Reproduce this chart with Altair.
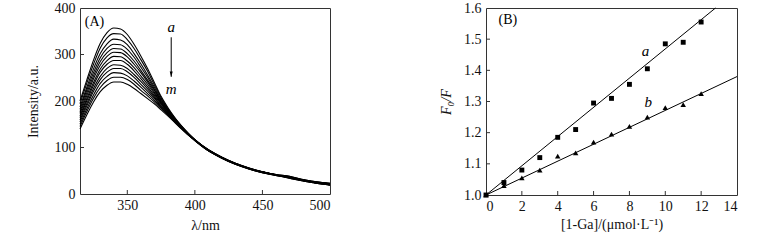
import altair as alt
import pandas as pd

# ---------------- Panel A: emission spectra (curves a..m) ----------------
wavelengths = [315, 320, 325, 330, 335, 340, 345, 350, 355, 360, 365, 370, 375, 380,
               385, 390, 395, 400, 410, 420, 430, 440, 450, 460, 470, 480, 490, 500]

curve_a = [200, 245, 288, 324, 347, 357, 355, 343, 322, 297, 270, 240, 210, 186, 165, 147, 131, 117, 95, 79, 66, 56, 48, 42, 38, 31, 26, 23]
curve_b = [194, 238, 279, 314, 336, 345, 344, 332, 313, 289, 264, 235, 207, 184, 164, 146, 131, 117, 95, 79, 66, 56, 48, 42, 38, 31, 26, 23]
curve_c = [187, 229, 269, 302, 323, 333, 331, 321, 302, 280, 256, 230, 204, 182, 163, 146, 130, 117, 95, 79, 66, 56, 48, 42, 37, 30, 25, 22]
curve_d = [182, 223, 261, 293, 313, 322, 321, 311, 294, 273, 251, 226, 201, 181, 162, 145, 130, 116, 94, 78, 65, 55, 47, 41, 37, 30, 25, 22]
curve_e = [177, 217, 254, 285, 304, 313, 312, 302, 286, 266, 245, 223, 199, 179, 161, 144, 129, 116, 94, 78, 65, 55, 47, 41, 36, 30, 25, 21]
curve_f = [173, 211, 248, 277, 296, 305, 304, 295, 279, 261, 241, 219, 197, 178, 160, 144, 129, 116, 94, 78, 65, 55, 47, 41, 36, 30, 25, 21]
curve_g = [168, 205, 240, 269, 287, 296, 295, 286, 272, 254, 236, 216, 195, 177, 159, 143, 129, 116, 94, 78, 65, 55, 47, 41, 36, 29, 24, 21]
curve_h = [164, 200, 234, 262, 279, 287, 287, 279, 265, 248, 231, 212, 193, 175, 158, 143, 129, 116, 94, 78, 65, 55, 47, 41, 36, 29, 24, 21]
curve_i = [159, 194, 227, 253, 270, 278, 277, 270, 257, 242, 226, 209, 190, 174, 158, 142, 128, 116, 94, 78, 65, 55, 47, 41, 35, 29, 24, 20]
curve_j = [155, 189, 221, 246, 262, 270, 270, 263, 251, 236, 221, 206, 188, 173, 157, 142, 128, 116, 94, 78, 65, 55, 47, 41, 35, 29, 24, 20]
curve_k = [150, 183, 213, 238, 253, 261, 260, 254, 243, 230, 216, 202, 186, 171, 156, 141, 128, 115, 93, 77, 64, 54, 46, 40, 35, 29, 24, 20]
curve_l = [145, 177, 206, 229, 244, 251, 251, 246, 236, 223, 211, 198, 184, 170, 155, 141, 127, 115, 93, 77, 64, 54, 46, 40, 34, 28, 23, 19]
curve_m = [140, 170, 198, 220, 234, 241, 241, 236, 227, 216, 205, 194, 181, 168, 154, 140, 127, 115, 93, 77, 64, 54, 46, 40, 34, 28, 23, 19]

curve_names = list("abcdefghijklm")
curves = [curve_a, curve_b, curve_c, curve_d, curve_e, curve_f, curve_g,
          curve_h, curve_i, curve_j, curve_k, curve_l, curve_m]

a_xlabels = [350, 400, 450, 500]
a_ylabels = [0, 100, 200, 300, 400]
a_xticks = [350, 400, 450]
a_yticks = [100, 200, 300]

# annotations of panel A (data coordinates)
a_text = ["(A)", "a", "m"]
a_text_x = [318.5, 382.5, 382.5]
a_text_y = [370, 360, 226]
a_text_style = ["normal", "italic", "italic"]
arrow_x = [382.5, 382.5]
arrow_y = [337, 252]

# ---------------- Panel B: Stern-Volmer plots ----------------
conc = [0, 1, 2, 3, 4, 5, 6, 7, 8, 9, 10, 11, 12]
ratio_a = [1.00, 1.04, 1.08, 1.12, 1.185, 1.21, 1.295, 1.31, 1.355, 1.405, 1.485, 1.49, 1.555]
ratio_b = [1.00, 1.03, 1.055, 1.08, 1.125, 1.135, 1.17, 1.195, 1.22, 1.25, 1.28, 1.29, 1.325]
fit_a_x = [0, 12.8]
fit_a_y = [1.0, 1.6]
fit_b_x = [0, 14]
fit_b_y = [1.0, 1.38]

b_xlabels = [0, 2, 4, 6, 8, 10, 12, 14]
b_ylabels = [1.0, 1.1, 1.2, 1.3, 1.4, 1.5, 1.6]
b_xticks = [2, 4, 6, 8, 10, 12]
b_yticks = [1.1, 1.2, 1.3, 1.4, 1.5]

b_text = ["(B)", "a", "b"]
b_text_x = [0.7, 8.9, 9.05]
b_text_y = [1.562, 1.462, 1.298]
b_text_style = ["normal", "italic", "italic"]

FONT = "Liberation Serif"
FS = 14

# ---------------- build panel A ----------------
rows = []
for name, vals in zip(curve_names, curves):
    for w, v in zip(wavelengths, vals):
        rows.append({"curve": name, "wl": w, "I": v})
spec_df = pd.DataFrame(rows)

WA, HA = 250, 186
xA_scale = alt.Scale(domain=[315, 500], nice=False, zero=False)
yA_scale = alt.Scale(domain=[0, 400], nice=False)
xA_axis = alt.Axis(values=a_xlabels, title="λ/nm", labelPadding=4, titlePadding=6,
                   minExtent=18, maxExtent=18, labelOverlap=False)
yA_axis = alt.Axis(values=a_ylabels, title="Intensity/a.u.", labelPadding=5, titlePadding=14,
                   minExtent=26, maxExtent=26, labelOverlap=False)


def XA(f):
    return alt.X(f, scale=xA_scale, axis=xA_axis)


def YA(f):
    return alt.Y(f, scale=yA_scale, axis=yA_axis)


linesA = alt.Chart(spec_df).mark_line(color="black", strokeWidth=1.1, interpolate="monotone").encode(
    x=XA("wl:Q"), y=YA("I:Q"), detail="curve:N")

ticksAx = alt.Chart(pd.DataFrame({"t": a_xticks})).mark_rule(color="#333", strokeWidth=1).encode(
    x=XA("t:Q"), y=alt.value(HA), y2=alt.value(HA - 4))
ticksAy = alt.Chart(pd.DataFrame({"t": a_yticks})).mark_rule(color="#333", strokeWidth=1).encode(
    y=YA("t:Q"), x=alt.value(0), x2=alt.value(4))

a_ann = pd.DataFrame({"txt": a_text, "x": a_text_x, "y": a_text_y, "st": a_text_style})
textA_norm = alt.Chart(a_ann[a_ann.st == "normal"]).mark_text(
    font=FONT, fontSize=FS, align="left", baseline="middle", color="black").encode(
    x=XA("x:Q"), y=YA("y:Q"), text="txt:N")
textA_it = alt.Chart(a_ann[a_ann.st == "italic"]).mark_text(
    font=FONT, fontSize=15, fontStyle="italic", align="center", baseline="middle", color="black").encode(
    x=XA("x:Q"), y=YA("y:Q"), text="txt:N")

arrow_df = pd.DataFrame({"x": arrow_x, "y": arrow_y})
arrow_line = alt.Chart(arrow_df).mark_line(color="black", strokeWidth=1).encode(
    x=XA("x:Q"), y=YA("y:Q"))
arrow_head = alt.Chart(arrow_df.iloc[[1]]).mark_point(
    shape="M-0.45,-1.6L0.45,-1.6L0,0Z", filled=True, color="black", size=45, opacity=1).encode(
    x=XA("x:Q"), y=YA("y:Q"))

panelA = alt.layer(linesA, ticksAx, ticksAy, arrow_line, arrow_head, textA_norm, textA_it).properties(
    width=WA, height=HA)

# ---------------- build panel B ----------------
WB, HB = 251, 187
xB_scale = alt.Scale(domain=[0, 14], nice=False)
yB_scale = alt.Scale(domain=[1.0, 1.6], nice=False, zero=False)
xB_axis = alt.Axis(values=b_xlabels, title="[1-Ga]/(μmol·L⁻¹)", labelPadding=4, titlePadding=4,
                   minExtent=18, maxExtent=18, labelOverlap=False)
yB_axis = alt.Axis(values=b_ylabels, format=".1f", title="F₀/F", titleFontStyle="italic",
                   labelPadding=5, titlePadding=10, minExtent=23, maxExtent=23, labelOverlap=False)


def XB(f):
    return alt.X(f, scale=xB_scale, axis=xB_axis)


def YB(f):
    return alt.Y(f, scale=yB_scale, axis=yB_axis)


pts = pd.DataFrame({"c": conc * 2, "r": ratio_a + ratio_b,
                    "s": ["a"] * len(conc) + ["b"] * len(conc)})
fits = pd.DataFrame({"c": fit_a_x + fit_b_x, "r": fit_a_y + fit_b_y,
                     "s": ["a"] * 2 + ["b"] * 2})

fitB = alt.Chart(fits).mark_line(color="black", strokeWidth=1).encode(
    x=XB("c:Q"), y=YB("r:Q"), detail="s:N")
sqB = alt.Chart(pts[pts.s == "a"]).mark_point(shape="square", filled=True, color="black",
                                              size=24, opacity=1).encode(x=XB("c:Q"), y=YB("r:Q"))
trB = alt.Chart(pts[pts.s == "b"]).mark_point(shape="triangle-up", filled=True, color="black",
                                              size=30, opacity=1).encode(x=XB("c:Q"), y=YB("r:Q"))

ticksBx = alt.Chart(pd.DataFrame({"t": b_xticks})).mark_rule(color="#333", strokeWidth=1).encode(
    x=XB("t:Q"), y=alt.value(HB), y2=alt.value(HB - 4))
ticksBy = alt.Chart(pd.DataFrame({"t": b_yticks})).mark_rule(color="#333", strokeWidth=1).encode(
    y=YB("t:Q"), x=alt.value(0), x2=alt.value(4))

b_ann = pd.DataFrame({"txt": b_text, "x": b_text_x, "y": b_text_y, "st": b_text_style})
textB_norm = alt.Chart(b_ann[b_ann.st == "normal"]).mark_text(
    font=FONT, fontSize=FS, align="left", baseline="middle", color="black").encode(
    x=XB("x:Q"), y=YB("y:Q"), text="txt:N")
textB_it = alt.Chart(b_ann[b_ann.st == "italic"]).mark_text(
    font=FONT, fontSize=15, fontStyle="italic", align="center", baseline="middle", color="black").encode(
    x=XB("x:Q"), y=YB("y:Q"), text="txt:N")

panelB = alt.layer(fitB, sqB, trB, ticksBx, ticksBy, textB_norm, textB_it).properties(
    width=WB, height=HB)

chart = alt.hconcat(panelA, panelB, spacing=105).properties(
    padding={"left": 25, "top": 0, "right": 0, "bottom": 0},
    background="white",
).configure_view(
    stroke="#333", strokeWidth=1
).configure_axis(
    labelFont=FONT, labelFontSize=FS, labelColor="#111", labelOverlap=False,
    titleFont=FONT, titleFontSize=FS, titleFontWeight="normal", titleColor="#111",
    ticks=False, tickSize=0, domain=False, grid=False,
)

chart.save("out.html", embed_options={"renderer": "svg", "actions": False})
